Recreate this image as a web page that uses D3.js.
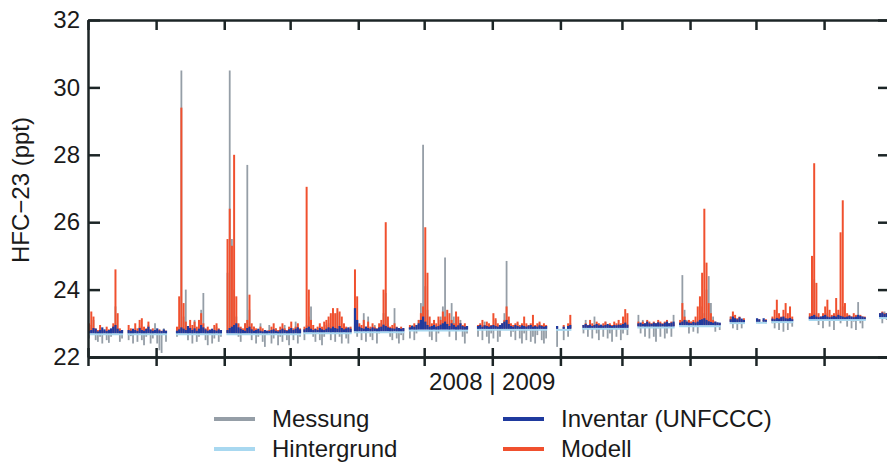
<!DOCTYPE html>
<html>
<head>
<meta charset="utf-8">
<script src="https://cdn.jsdelivr.net/npm/d3@7"></script>
<style>
  body { margin: 0; background: #fff; }
  svg { display: block; font-family: "Liberation Sans", Arial, sans-serif; }
  .axis path, .axis line { stroke: #1c2526; stroke-width: 2.5; }
</style>
</head>
<body>
<svg id="chart" width="887" height="463"></svg>
<script>
const _ = null;

// measurement blocks: [first day, last day, Hintergrund ppt], day 0 = 1 Jul 2008
const hintergrund = [
  [0, 15, 22.72], [18, 35, 22.72], [40, 60, 22.72], [63, 96, 22.72],
  [98, 119, 22.75], [121, 143, 22.78], [146, 172, 22.83], [177, 208, 22.85],
  [213, 219, 22.85], [225, 245, 22.88], [250, 266, 22.92], [269, 287, 22.96],
  [292, 298, 23.05], [304, 308, 23.06], [311, 320, 23.08], [328, 353, 23.14],
  [360, 364, 23.2]
];

// daily values per block (same order as hintergrund)
const messung = [
  [22.55, 22.95, 23.1, 22.5, 22.45, 22.6, 22.4, 22.78, 22.5, 22.42, 22.6, 22.9, 23.5, 22.85, 22.45, 22.55],
  [22.5, 22.62, 22.4, 22.75, 22.45, 22.9, 22.5, 22.35, 22.6, 22.95, 22.4, 22.55, 23.0, 22.4, 22.2, 22.12, 22.85, 22.45],
  [22.6, 22.9, 30.5, 23.2, 24.0, 22.5, 22.75, 22.4, 23.1, 22.45, 22.6, 23.4, 23.9, 22.5, 22.35, 22.7, 22.4, 22.55, 22.9, 22.45, 22.6],
  [24.5, 30.5, 25.5, 24.0, 23.2, 22.6, 22.45, 22.8, 23.0, 27.7, 23.4, 22.5, 22.9, 22.4, 22.6, 23.0, 22.45, 22.3, 22.65, 22.95,
   22.4, 22.55, 22.85, 22.35, 22.6, 22.45, 22.95, 22.5, 22.35, 22.7, 22.5, 23.05, 22.4, 22.6],
  [22.5, 22.95, 23.2, 23.5, 22.6, 22.45, 22.8, 22.5, 22.35, 22.6, 22.95, 23.0, 22.5, 23.1, 22.45, 23.3, 22.6, 22.4, 22.9, 22.55, 22.4, 22.7],
  [23.2, 22.6, 22.9, 22.5, 23.3, 22.45, 23.2, 22.6, 22.5, 22.95, 22.4, 22.7, 23.0, 23.3, 23.9, 23.0, 22.6, 22.5, 23.45, 22.55, 22.4, 22.65, 22.5],
  [22.55, 22.95, 22.5, 22.7, 23.1, 23.6, 28.3, 24.1, 23.4, 22.6, 22.5, 23.1, 22.45, 22.7, 23.2, 23.5, 24.95, 23.0, 22.6, 23.6,
   23.2, 22.5, 22.8, 23.1, 22.6, 22.4, 22.7],
  [22.6, 22.95, 22.5, 23.05, 22.6, 22.4, 22.7, 22.55, 23.1, 22.45, 22.6, 22.9, 23.3, 24.85, 23.1, 22.6, 22.75, 22.5, 23.0, 22.55,
   22.4, 22.7, 22.5, 22.85, 22.45, 22.6, 22.4, 22.65, 23.0, 22.5, 22.4, 22.55],
  [22.3, _, _, 22.5, _, 22.6, 23.0],
  [22.7, 23.1, 22.6, 22.95, 22.55, 23.2, 22.7, 22.5, 22.9, 22.6, 23.05, 22.55, 22.7, 22.45, 22.85, 22.6, 22.95, 22.5, 22.7, 23.0, 22.65],
  [23.25, 22.7, 23.1, 22.6, 22.9, 22.55, 23.0, 22.6, 22.45, 22.85, 22.6, 22.95, 22.55, 22.7, 23.0, 22.6, 23.25],
  [23.0, 24.43, 23.4, 23.1, 22.7, 23.05, 22.75, 22.9, 22.7, 23.2, 23.5, 23.3, 24.0, 24.4, 23.6, 23.2, 22.75, 23.0, 22.8],
  [23.2, 22.85, 23.0, 22.8, 23.1, 22.85, 23.0],
  [23.1, 23.0, _, 23.1, 23.0],
  [23.0, 22.85, 23.2, 22.8, 23.05, 22.75, 23.1, 22.8, 23.0, 22.9],
  [23.1, 23.8, 24.3, 23.3, 22.95, 23.1, 22.85, 23.2, 23.3, 22.9, 23.1, 22.8, 23.2, 23.3, 23.0, 23.5, 23.2, 22.9, 23.1, 22.85,
   23.05, 22.8, 23.63, 23.0, 22.85, 23.1],
  [23.3, 23.0, 23.35, 23.1, 23.25]
];

const inventar = [
  [22.78, 22.8, 22.86, 22.84, 22.76, 22.8, 22.88, 22.82, 22.77, 22.8, 22.85, 22.9, 22.95, 22.84, 22.78, 22.8],
  [22.8, 22.78, 22.84, 22.8, 22.77, 22.86, 22.8, 22.78, 22.83, 22.9, 22.82, 22.78, 22.8, 22.85, 22.79, 22.77, 22.82, 22.78],
  [22.78, 22.82, 22.88, 22.84, 22.8, 22.92, 22.86, 22.8, 22.85, 22.78, 22.84, 22.95, 22.88, 22.82, 22.78, 22.8, 22.84, 22.8, 22.78, 22.82, 22.8],
  [22.8, 22.86, 22.9, 22.95, 23.0, 22.88, 22.84, 22.8, 22.78, 22.86, 22.9, 22.82, 22.78, 22.8, 22.84, 22.78, 22.76, 22.8, 22.78, 22.77,
   22.8, 22.82, 22.78, 22.76, 22.8, 22.84, 22.8, 22.78, 22.82, 22.86, 22.8, 22.84, 22.88, 22.82],
  [22.82, 22.86, 22.9, 22.84, 22.8, 22.83, 22.8, 22.86, 22.82, 22.8, 22.84, 22.88, 22.85, 22.9, 22.86, 22.84, 22.92, 22.86, 22.82, 22.85, 22.88, 22.84],
  [23.45, 23.1, 22.9, 22.86, 22.84, 22.9, 22.86, 22.84, 22.88, 22.85, 22.84, 22.88, 22.9, 22.96, 22.92, 22.88, 22.86, 22.85, 22.84, 22.88, 22.86, 22.84, 22.86],
  [22.88, 22.92, 22.9, 22.95, 23.0, 23.1, 23.2, 23.05, 22.95, 22.9, 22.92, 22.95, 22.9, 22.92, 22.96, 23.0, 23.05, 22.98, 22.92, 23.0,
   22.95, 22.9, 22.94, 23.0, 22.92, 22.9, 22.92],
  [22.92, 22.95, 22.9, 22.94, 22.92, 22.9, 22.93, 22.95, 22.92, 22.9, 22.95, 23.0, 23.05, 23.1, 22.98, 22.92, 22.9, 22.95, 22.92, 22.9,
   22.94, 22.92, 22.9, 22.93, 22.95, 22.9, 22.92, 22.9, 22.94, 22.92, 22.9, 22.92],
  [22.92, _, _, 22.9, _, 22.92, 22.95],
  [22.95, 22.98, 22.94, 22.96, 22.92, 22.95, 22.98, 22.94, 22.96, 22.93, 22.95, 22.98, 22.95, 22.92, 22.95, 22.94, 22.96, 22.95, 22.98, 23.02, 22.96],
  [23.0, 23.02, 22.98, 23.0, 23.05, 23.0, 22.98, 23.02, 23.0, 23.03, 23.0, 22.98, 23.02, 23.05, 23.0, 23.02, 23.05],
  [23.02, 23.05, 23.1, 23.05, 23.02, 23.0, 23.04, 23.02, 23.05, 23.1, 23.12, 23.15, 23.1, 23.06, 23.04, 23.02, 23.05, 23.03, 23.02],
  [23.12, 23.2, 23.15, 23.12, 23.18, 23.14, 23.1],
  [23.15, 23.12, _, 23.15, 23.1],
  [23.14, 23.12, 23.16, 23.14, 23.18, 23.2, 23.15, 23.14, 23.16, 23.12],
  [23.2, 23.22, 23.25, 23.2, 23.18, 23.2, 23.22, 23.25, 23.2, 23.18, 23.2, 23.22, 23.2, 23.25, 23.22, 23.2, 23.18, 23.2, 23.22, 23.2,
   23.18, 23.2, 23.25, 23.22, 23.2, 23.18],
  [23.3, 23.32, 23.28, 23.3, 23.26]
];

const modell = [
  [23.0, 23.35, 23.2, 22.85, 22.8, 22.95, 22.8, 22.78, 22.9, 22.82, 22.8, 23.0, 24.6, 23.3, 22.85, 22.8],
  [22.95, 22.85, 22.8, 23.0, 22.85, 23.1, 23.15, 22.9, 22.85, 23.05, 22.8, 22.85, 22.78, 22.8, 22.82, 22.78, 22.8, 22.78],
  [22.9, 23.8, 29.4, 23.6, 23.05, 22.9, 23.1, 22.95, 23.05, 22.9, 23.1, 23.3, 23.0, 22.85, 22.9, 22.82, 22.8, 22.95, 23.0, 22.85, 22.8],
  [25.5, 26.4, 25.3, 28.0, 23.8, 23.0, 22.9, 22.85, 23.0, 23.1, 23.85, 23.0, 22.9, 22.85, 22.8, 22.9, 22.85, 22.8, 22.78, 22.8,
   22.9, 23.0, 22.85, 22.8, 22.9, 23.0, 22.85, 22.8, 22.9, 23.05, 22.85, 22.9, 23.0, 22.85],
  [22.9, 27.05, 24.0, 23.1, 22.95, 22.85, 22.9, 23.0, 22.9, 23.05, 23.1, 23.2, 23.3, 23.45, 23.3, 23.45, 23.35, 23.2, 23.0, 22.9, 22.85, 22.9],
  [24.6, 23.8, 23.0, 22.95, 23.1, 22.9, 23.05, 22.9, 23.0, 22.9, 22.85, 23.0, 23.1, 24.0, 26.0, 23.2, 22.9, 22.95, 23.0, 22.9, 22.85, 22.9, 22.85],
  [22.95, 22.9, 23.0, 22.95, 23.1, 23.3, 23.5, 25.85, 24.5, 23.2, 23.0, 23.1, 23.0, 23.2, 23.1, 23.35, 23.2, 23.4, 23.3, 23.1,
   23.0, 23.35, 23.2, 23.0, 22.95, 23.0, 22.9],
  [22.95, 23.0, 23.1, 22.95, 23.05, 23.0, 22.95, 23.3, 23.15, 23.0, 22.95, 23.0, 23.1, 23.5, 23.2, 23.0, 22.95, 23.0, 23.05, 22.95,
   23.0, 23.2, 23.0, 22.95, 23.0, 23.25, 22.95, 23.0, 23.05, 22.95, 23.0, 22.95],
  [22.9, _, _, 22.95, _, 23.0, 23.25],
  [22.95, 23.0, 22.95, 23.1, 23.0, 22.95, 23.05, 23.0, 22.95, 23.0, 23.05, 22.95, 23.0, 22.95, 23.05, 23.0, 23.1, 23.0, 23.2, 23.42, 23.3],
  [23.05, 23.0, 23.05, 23.0, 23.1, 23.05, 23.0, 23.05, 23.0, 23.1, 23.05, 23.0, 23.05, 23.1, 23.0, 23.05, 23.0],
  [23.1, 23.6, 23.2, 23.05, 23.1, 23.05, 23.1, 23.2, 23.5, 23.8, 24.5, 26.4, 24.8, 23.6, 23.3, 23.1, 23.05, 23.0, 23.0],
  [23.2, 23.35, 23.25, 23.15, 23.2, 23.1, 23.15],
  [23.1, 23.12, _, 23.1, 23.12],
  [23.2, 23.4, 23.7, 23.3, 23.2, 23.4, 23.6, 23.3, 23.5, 23.2],
  [23.3, 25.0, 27.75, 24.2, 23.3, 23.2, 23.3, 23.5, 23.7, 23.4, 23.25, 23.3, 23.75, 23.4, 25.7, 26.65, 23.6, 23.3, 23.25, 23.2,
   23.3, 23.25, 23.2, 23.25, 23.2, 23.2],
  [23.3, 23.35, 23.3, 23.3, 23.25]
];

const yTicks = [22, 24, 26, 28, 30, 32];
const xLabel = "2008 | 2009";
const legendItems = [
  { name: "Messung", color: "#959ea7" },
  { name: "Hintergrund", color: "#a8d8f0" },
  { name: "Inventar (UNFCCC)", color: "#1f3a9e" },
  { name: "Modell", color: "#f0502e" }
];

const colGrey = "#959ea7", colBg = "#a8d8f0", colInv = "#1f3a9e", colMod = "#f0502e";

let svg = d3.select("#chart");
let pLeft = 88, pRight = 890, pTop = 20, pBottom = 357;

let start = new Date(Date.UTC(2008, 6, 1));
let end = new Date(Date.UTC(2009, 6, 1));
let x = d3.scaleUtc().domain([start, end]).range([pLeft, pRight]);
let y = d3.scaleLinear().domain([22, 32]).range([pBottom, pTop]);
let day = d => d3.utcHour.offset(start, d * 24);

svg.append("clipPath").attr("id", "clip")
  .append("rect").attr("x", pLeft).attr("y", pTop)
  .attr("width", pRight - pLeft).attr("height", pBottom - pTop);

let plot = svg.append("g").attr("clip-path", "url(#clip)");

// flatten the blocks into daily records
let recs = [];
hintergrund.forEach((b, i) => {
  for (let d = b[0]; d <= b[1]; d++) {
    let k = d - b[0];
    recs.push({ d: d, bg: b[2], mess: messung[i][k], inv: inventar[i][k], mod: modell[i][k] });
  }
});

// Messung: vertical strokes from the background
plot.selectAll("line.mess")
  .data(recs.filter(r => r.mess != null))
  .enter().append("line")
  .attr("class", "mess")
  .attr("x1", r => x(day(r.d + 0.5)))
  .attr("x2", r => x(day(r.d + 0.5)))
  .attr("y1", r => y(r.bg))
  .attr("y2", r => y(r.mess))
  .attr("stroke", colGrey)
  .attr("stroke-width", 1.8);

// Hintergrund
plot.selectAll("line.bg")
  .data(hintergrund)
  .enter().append("line")
  .attr("class", "bg")
  .attr("x1", b => x(day(b[0])))
  .attr("x2", b => x(day(b[1] + 1)))
  .attr("y1", b => y(b[2]) + 1.5)
  .attr("y2", b => y(b[2]) + 1.5)
  .attr("stroke", colBg)
  .attr("stroke-width", 2);

let dw = x(day(1)) - x(day(0));

// Modell
plot.selectAll("rect.mod")
  .data(recs.filter(r => r.mod != null))
  .enter().append("rect")
  .attr("class", "mod")
  .attr("x", r => x(day(r.d)) + dw * 0.05)
  .attr("width", dw * 0.9)
  .attr("y", r => y(r.mod))
  .attr("height", r => y(r.bg) - y(r.mod))
  .attr("fill", colMod);

// Inventar
plot.selectAll("rect.inv")
  .data(recs.filter(r => r.inv != null))
  .enter().append("rect")
  .attr("class", "inv")
  .attr("x", r => x(day(r.d)))
  .attr("width", dw)
  .attr("y", r => y(r.inv))
  .attr("height", r => y(r.bg) - y(r.inv) + 0.5)
  .attr("fill", colInv);

// axes
let months = d3.utcMonth.every(1);

svg.append("g").attr("class", "axis")
  .attr("transform", `translate(0,${pBottom})`)
  .call(d3.axisBottom(x).ticks(months).tickSize(9).tickSizeOuter(0).tickFormat(""));
svg.append("g").attr("class", "axis")
  .attr("transform", `translate(0,${pBottom})`)
  .call(d3.axisBottom(x).ticks(months).tickSize(-9).tickSizeOuter(0).tickFormat(""));
svg.append("g").attr("class", "axis")
  .attr("transform", `translate(0,${pTop})`)
  .call(d3.axisTop(x).ticks(months).tickSize(-10).tickSizeOuter(0).tickFormat(""));
svg.append("g").attr("class", "axis")
  .attr("transform", `translate(${pRight},0)`)
  .call(d3.axisRight(y).tickValues(yTicks).tickSize(-12).tickSizeOuter(0).tickFormat(""));

let yAxis = svg.append("g").attr("class", "axis")
  .attr("transform", `translate(${pLeft},0)`)
  .call(d3.axisLeft(y).tickValues(yTicks).tickSize(-12).tickSizeOuter(0).tickPadding(8));
yAxis.selectAll("text")
  .attr("font-size", 24)
  .attr("font-family", "Liberation Sans, Arial, sans-serif")
  .attr("fill", "#1a1a1a");

svg.append("text")
  .attr("transform", "translate(29,190) rotate(-90)")
  .attr("text-anchor", "middle")
  .attr("font-size", 24)
  .attr("fill", "#1a1a1a")
  .text("HFC\u221223 (ppt)");

svg.append("text")
  .attr("x", x(new Date(Date.UTC(2009, 0, 1))))
  .attr("y", 390)
  .attr("text-anchor", "middle")
  .attr("font-size", 24)
  .attr("fill", "#1a1a1a")
  .text(xLabel);

// legend, two columns
let legend = svg.append("g");
legendItems.forEach((it, i) => {
  let col = Math.floor(i / 2), row = i % 2;
  let lx = col == 0 ? 214 : 503;
  let ly = row == 0 ? 419 : 449;
  legend.append("line")
    .attr("x1", lx).attr("x2", lx + 41)
    .attr("y1", ly).attr("y2", ly)
    .attr("stroke", it.color)
    .attr("stroke-width", 4);
  legend.append("text")
    .attr("x", lx + 58)
    .attr("y", ly + 8)
    .attr("font-size", 24)
    .attr("fill", "#1a1a1a")
    .text(it.name);
});
</script>
</body>
</html>
